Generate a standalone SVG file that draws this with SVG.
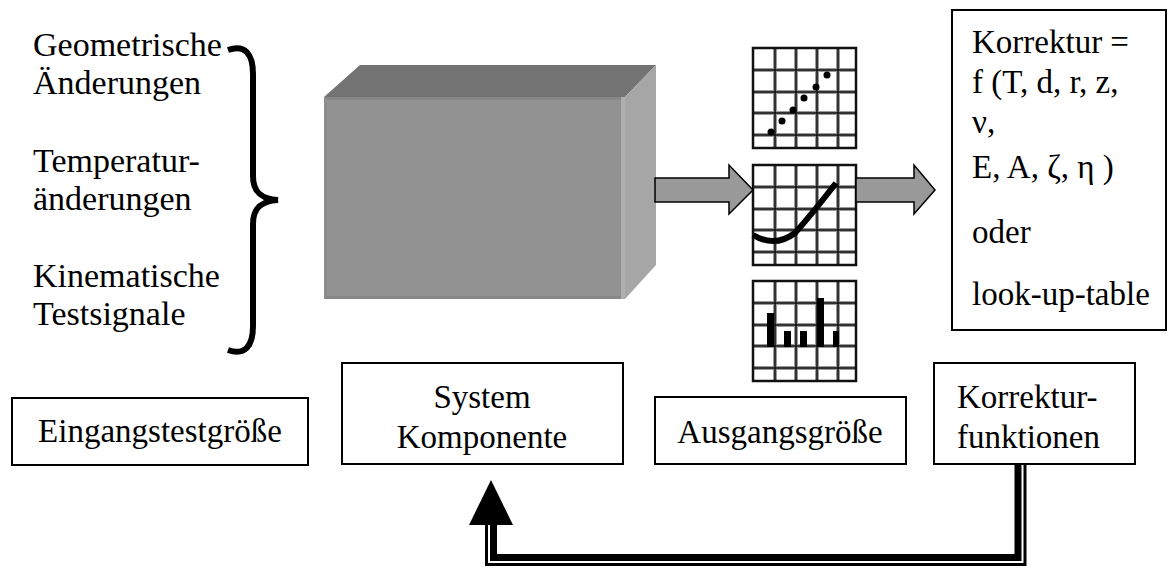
<svg xmlns="http://www.w3.org/2000/svg" width="1175" height="568" viewBox="0 0 1175 568">
<style>
text{font-family:"Liberation Serif","Times New Roman",serif;font-size:33px;fill:#000}
.lbl{font-size:34px}
.box{fill:#fff;stroke:#000;stroke-width:2}
.gridhalo{stroke:#9a9a9a;stroke-width:4;fill:none}
.gridcore{stroke:#111;stroke-width:1.5;fill:none}
.blockarrow{fill:#999;stroke:#000;stroke-width:1.5;stroke-linejoin:miter}
</style>
<defs>
<g id="grid">
<rect x="0" y="0" width="103" height="100" fill="#fff"/>
<path class="gridhalo" d="M22,0V100M43,0V100M64,0V100M85,0V100M0,22H103M0,44H103M0,65H103M0,87H103"/>
<path class="gridcore" d="M22,0V100M43,0V100M64,0V100M85,0V100M0,22H103M0,44H103M0,65H103M0,87H103"/>
<rect x="0" y="0" width="103" height="100" fill="none" stroke="#111" stroke-width="2.5"/>
</g>
</defs>

<g id="inputs">
<text class="lbl" x="33" y="56">Geometrische</text>
<text class="lbl" x="33" y="94">Änderungen</text>
<text class="lbl" x="33" y="172">Temperatur-</text>
<text class="lbl" x="33" y="210">änderungen</text>
<text class="lbl" x="33" y="287">Kinematische</text>
<text class="lbl" x="33" y="325">Testsignale</text>
<path d="M228,50 C245,44 253,54 253,74 L253,176 C253,192 261,199 278,200 C261,201 253,208 253,224 L253,326 C253,346 245,356 228,350" fill="none" stroke="#000" stroke-width="6"/>
</g>

<g id="system-block">
<polygon points="324,97 360,65 656,65 625,97" fill="#737373"/>
<polygon points="625,97 656,65 656,265 625,299" fill="#a6a6a6"/>
<rect x="324" y="97" width="301" height="202" fill="#929292"/>
<rect x="324" y="97" width="301" height="3" fill="#878787"/>
<rect x="324" y="296" width="301" height="3" fill="#878787"/>
<rect x="324" y="97" width="3" height="202" fill="#8d8d8d"/>
<rect x="621" y="97" width="4" height="202" fill="#b0b0b0"/>
</g>

<g id="graph-dots">
<use href="#grid" x="753" y="48"/>
<g fill="#000">
<circle cx="771" cy="132" r="3.5"/>
<circle cx="782" cy="121" r="3.5"/>
<circle cx="793" cy="110" r="3.5"/>
<circle cx="804" cy="98" r="3.5"/>
<circle cx="816" cy="87" r="3.5"/>
<circle cx="827" cy="75" r="3.5"/>
</g>
</g>

<g id="graph-curve">
<use href="#grid" x="753" y="165"/>
<path d="M753,235 Q775,248 795,233 Q812,214 836,183" fill="none" stroke="#000" stroke-width="6"/>
</g>

<g id="graph-bars">
<use href="#grid" x="753" y="281"/>
<g fill="#000">
<rect x="767" y="313" width="7" height="34"/>
<rect x="784" y="331" width="7" height="16"/>
<rect x="800" y="331" width="7" height="16"/>
<rect x="817" y="298" width="7" height="49"/>
<rect x="833" y="331" width="6" height="16"/>
</g>
</g>

<g id="correction-formula">
<rect class="box" x="952" y="10" width="214" height="320"/>
<text x="972" y="53">Korrektur =</text>
<text x="972" y="93">f (T, d, r, z,</text>
<text x="972" y="133">ν,</text>
<text x="972" y="178">E, A, ζ, η )</text>
<text x="972" y="243">oder</text>
<text x="972" y="305">look-up-table</text>
</g>

<g id="label-input">
<rect class="box" x="12" y="398" width="296" height="67"/>
<text x="160" y="442" text-anchor="middle">Eingangstestgröße</text>
</g>
<g id="label-system">
<rect class="box" x="342" y="363" width="281" height="101"/>
<text x="482" y="408" text-anchor="middle">System</text>
<text x="482" y="448" text-anchor="middle">Komponente</text>
</g>
<g id="label-output">
<rect class="box" x="655" y="397" width="251" height="67"/>
<text x="780" y="443" text-anchor="middle">Ausgangsgröße</text>
</g>
<g id="label-correction">
<rect class="box" x="934" y="363" width="201" height="101"/>
<text x="957" y="408">Korrektur-</text>
<text x="957" y="448">funktionen</text>
</g>

<g id="connectors">
<polygon class="blockarrow" points="655,178 729,178 729,165 753,190 729,214 729,202 655,202"/>
<polygon class="blockarrow" points="856,178 914,178 914,165 935,190 914,214 914,202 856,202"/>
<path d="M1018,465 V557.5 H493.5 V522" fill="none" stroke="#000" stroke-width="7"/>
<path d="M1025,465 V564.5 H486.5 V522" fill="none" stroke="#000" stroke-width="3"/>
<polygon points="491,480 513,525 469,525" fill="#000"/>
</g>
</svg>
